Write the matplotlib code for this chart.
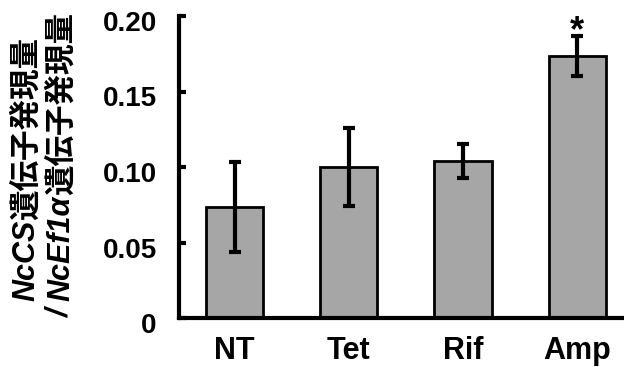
import matplotlib
matplotlib.use('Agg')
from matplotlib import pyplot as plt
from matplotlib.transforms import ScaledTranslation

# datos
grupos = ['NT', 'Tet', 'Rif', 'Amp']
valores = [0.0735, 0.100, 0.104, 0.1735]
errores = [0.0295, 0.0257, 0.011, 0.013]
marcas_y = [0, 0.05, 0.10, 0.15, 0.20]
etiquetas_y = ['0', '0.05', '0.10', '0.15', '0.20']

LATIN = 'Liberation Sans'
CJK = 'Noto Sans CJK JP'

fig = plt.figure(figsize=(6.24, 3.67), dpi=100)
ax = fig.add_axes([179 / 624, 1 - 318 / 367, 1 - 179 / 624, (318 - 16) / 367])

pos = list(range(len(grupos)))
ax.bar(pos, valores, width=0.5, color='#a6a6a6', edgecolor='black', linewidth=2, zorder=2)
ax.errorbar(pos, valores, yerr=errores, fmt='none', ecolor='black',
            elinewidth=3, capsize=4.3, capthick=3, zorder=3)
ax.text(3, valores[3] + errores[3] - 0.0035, '*', ha='center', va='baseline',
        fontsize=26, fontweight='bold', family=LATIN)

ax.set_xlim(-0.487, 3.41)
ax.set_ylim(0, 0.2)
ax.set_xticks(pos)
ax.set_xticklabels(grupos, fontsize=22, fontweight='bold', family=LATIN)
ax.set_yticks(marcas_y)
ax.set_yticklabels(etiquetas_y, fontsize=20, fontweight='bold', family=LATIN)
ax.tick_params(axis='x', length=0, pad=13)
ax.tick_params(axis='y', direction='in', length=5, width=3, pad=16)
# en el original las etiquetas del eje y quedan un poco por debajo de las marcas
desplazamiento = ScaledTranslation(0, -5 / 100, fig.dpi_scale_trans)
for etiqueta in ax.get_yticklabels():
    etiqueta.set_transform(etiqueta.get_transform() + desplazamiento)
for lado in ['top', 'right']:
    ax.spines[lado].set_visible(False)
for lado in ['left', 'bottom']:
    ax.spines[lado].set_linewidth(3)

# etiqueta del eje y: trozos girados, unos en cursiva y otros no
lineas = [
    (26, 169, [('NcCS', LATIN, 'italic'), ('遺伝子発現量', CJK, 'normal')]),
    (61, 165, [('/ ', LATIN, 'italic'), ('NcEf1α', LATIN, 'italic'), ('遺伝子発現量', CJK, 'normal')]),
]
fig.canvas.draw()
renderer = fig.canvas.get_renderer()
for x_px, centro, trozos in lineas:
    textos = []
    for cadena, familia, estilo in trozos:
        t = fig.text(0, 0, cadena, rotation=90, ha='center', va='bottom',
                     fontsize=22, fontweight='bold', family=familia, style=estilo)
        textos.append(t)
    alturas = [t.get_window_extent(renderer).height for t in textos]
    y = (367 - centro) - sum(alturas) / 2
    for t, h in zip(textos, alturas):
        t.set_position((x_px / 624, y / 367))
        y += h

fig.savefig('out.png', dpi=100)
